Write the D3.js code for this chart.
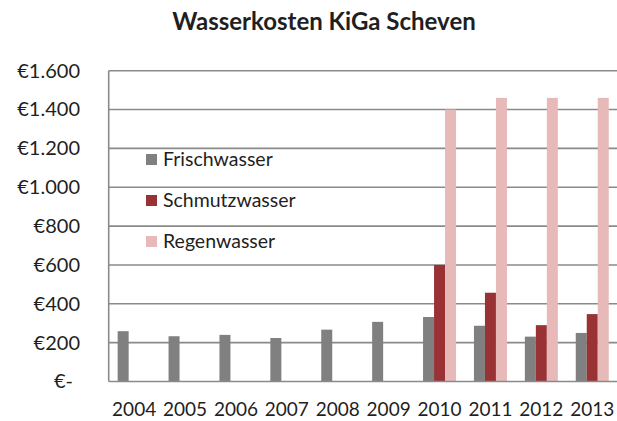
<!DOCTYPE html>
<html>
<head>
<meta charset="utf-8">
<script src="https://cdn.jsdelivr.net/npm/d3@7"></script>
<style>
  html, body { margin: 0; padding: 0; background: #fff; }
  svg { display: block; font-family: Lato, "Open Sans", sans-serif; }
</style>
</head>
<body>
<svg id="chart" width="617" height="421"></svg>
<script>
// Annual water costs of the kindergarten, split by water type (EUR)
const years = ["2004", "2005", "2006", "2007", "2008", "2009", "2010", "2011", "2012", "2013"];
const frischwasser = [259, 233, 240, 224, 267, 307, 332, 287, 231, 250];
const schmutzwasser = [null, null, null, null, null, null, 600, 457, 290, 347];
const regenwasser = [null, null, null, null, null, null, 1400, 1460, 1460, 1460];
const seriesNames = ["Frischwasser", "Schmutzwasser", "Regenwasser"];
const seriesColors = ["#808080", "#983234", "#e8b9b9"];
const yTicks = [0, 200, 400, 600, 800, 1000, 1200, 1400, 1600];
const yTickLabels = ["€-", "€200", "€400", "€600", "€800", "€1.000", "€1.200", "€1.400", "€1.600"];
const title = "Wasserkosten KiGa Scheven";

const seriesValues = [frischwasser, schmutzwasser, regenwasser];

const svg = d3.select("#chart");
const plotLeft = 108.7, plotRight = 617.7, plotTop = 70.7, plotBottom = 381.5;

const x = d3.scaleBand().domain(years).range([plotLeft, plotRight]).paddingInner(0).paddingOuter(0);
const x1 = d3.scaleBand().domain(seriesNames).range([0, 33]).padding(0);
const groupOffset = (x.bandwidth() - 33) / 2;
const y = d3.scaleLinear().domain([0, 1600]).range([plotBottom, plotTop]);

// Title
svg.append("text")
  .attr("x", 324).attr("y", 30)
  .attr("text-anchor", "middle")
  .attr("font-size", 24).attr("font-weight", "bold")
  .attr("fill", "#1f1f1f")
  .text(title);

// Horizontal gridlines
svg.append("g")
  .selectAll("line")
  .data(yTicks.filter(d => d > 0))
  .join("line")
  .attr("x1", plotLeft).attr("x2", plotRight)
  .attr("y1", d => y(d)).attr("y2", d => y(d))
  .attr("stroke", "#8a8a8a").attr("stroke-width", 1.6);

// Bars
const bars = svg.append("g");
seriesNames.forEach((name, si) => {
  bars.append("g")
    .selectAll("rect")
    .data(years.map((yr, i) => ({ yr, v: seriesValues[si][i] })).filter(d => d.v != null))
    .join("rect")
    .attr("x", d => x(d.yr) + groupOffset + x1(name))
    .attr("width", x1.bandwidth())
    .attr("y", d => y(d.v))
    .attr("height", d => y(0) - y(d.v))
    .attr("fill", seriesColors[si]);
});

// Value axis line and category baseline
svg.append("line")
  .attr("x1", plotLeft).attr("x2", plotLeft).attr("y1", plotTop).attr("y2", plotBottom)
  .attr("stroke", "#8a8a8a").attr("stroke-width", 1.6);
svg.append("line")
  .attr("x1", plotLeft).attr("x2", plotRight).attr("y1", plotBottom).attr("y2", plotBottom)
  .attr("stroke", "#8a8a8a").attr("stroke-width", 1.6);

// Y tick labels
const yAxis = d3.axisLeft(y).tickValues(yTicks).tickSize(0).tickPadding(0)
  .tickFormat((d, i) => yTickLabels[i]);
const gy = svg.append("g").attr("transform", "translate(80,0)").call(yAxis);
gy.select(".domain").remove();
gy.selectAll("text")
  .attr("font-family", "Lato, 'Open Sans', sans-serif")
  .attr("font-size", 20).attr("fill", "#1f1f1f")
  .attr("dx", d => d === 0 ? -7 : 0);

// X tick labels
const xAxis = d3.axisBottom(x).tickSize(0).tickPadding(0);
const gx = svg.append("g").attr("transform", "translate(0,402)").call(xAxis);
gx.select(".domain").remove();
gx.selectAll("text")
  .attr("font-family", "Lato, 'Open Sans', sans-serif")
  .attr("font-size", 19).attr("fill", "#1f1f1f");

// Legend
const legend = svg.append("g");
seriesNames.forEach((name, i) => {
  const cy = 159.5 + i * 41;
  legend.append("rect")
    .attr("x", 146).attr("y", cy - 5.5).attr("width", 11).attr("height", 11)
    .attr("fill", seriesColors[i]);
  legend.append("text")
    .attr("x", 163).attr("y", cy).attr("dy", "0.35em")
    .attr("font-size", 19.5).attr("fill", "#1f1f1f")
    .text(name);
});
</script>
</body>
</html>
